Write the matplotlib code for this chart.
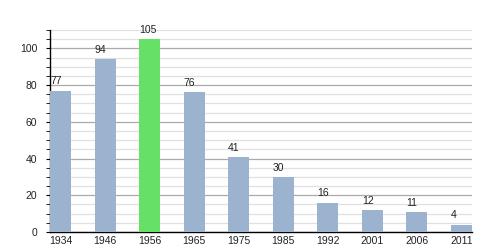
import matplotlib
matplotlib.use("Agg")
import matplotlib.pyplot as plt
from matplotlib.ticker import MultipleLocator

plt.rcParams["font.family"] = ["Liberation Sans", "DejaVu Sans"]

# datos
anios = ["1934", "1946", "1956", "1965", "1975", "1985", "1992", "2001", "2006", "2011"]
poblacion = [77, 94, 105, 76, 41, 30, 16, 12, 11, 4]
destacado = "1956"

fig = plt.figure(figsize=(5, 2.5), dpi=100)
ax = fig.add_axes([0.1, 0.072, 0.844, 0.808])

ancho = 0.47
colores = ["#66e066" if a == destacado else "#9bb3cf" for a in anios]
x = list(range(len(anios)))
ax.bar(x, poblacion, width=ancho, color=colores, zorder=3)

# etiquetas encima de las barras, alineadas al borde izquierdo
for i, v in enumerate(poblacion):
    ax.annotate(str(v), (i - ancho / 2, v), xytext=(0, 3), textcoords="offset points",
                ha="left", va="bottom", fontsize=7.5, color="#222222")

ax.set_xlim(-ancho / 2, len(anios) - 1 + ancho / 2)
ax.set_ylim(0, 110)
ax.set_xticks(x)
ax.set_xticklabels(anios)
ax.yaxis.set_major_locator(MultipleLocator(20))
ax.yaxis.set_minor_locator(MultipleLocator(5))

ax.grid(axis="y", which="major", color="#aaaaaa", linewidth=0.9, zorder=0)
ax.grid(axis="y", which="minor", color="#e0e0e0", linewidth=0.9, zorder=0)

for lado in ["top", "right"]:
    ax.spines[lado].set_visible(False)
ax.spines["left"].set_linewidth(1)
ax.spines["bottom"].set_linewidth(1)

ax.tick_params(axis="x", length=0, labelsize=7.5, pad=3, labelcolor="#222222")
ax.tick_params(axis="y", which="major", length=3, labelsize=7.5, pad=6, labelcolor="#222222")
ax.tick_params(axis="y", which="minor", length=3)

fig.savefig("out.png", dpi=100)
